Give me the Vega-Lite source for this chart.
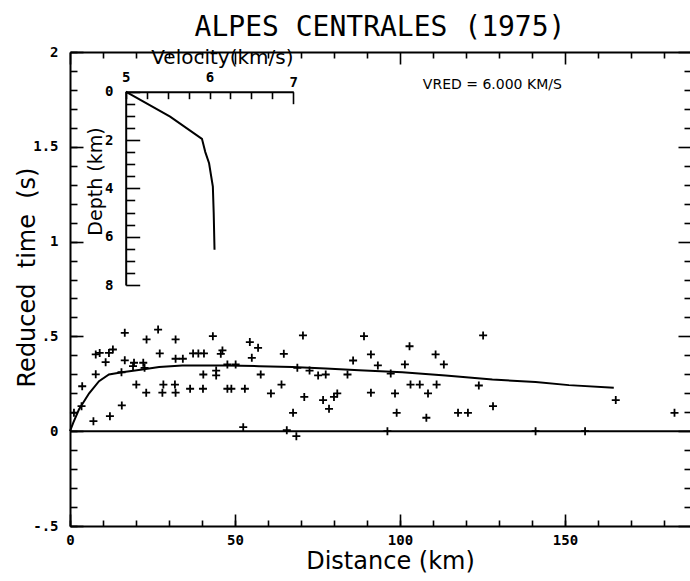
{
  "$schema": "https://vega.github.io/schema/vega-lite/v6.json",
  "width": 620,
  "height": 474,
  "autosize": {"type": "none"},
  "padding": {"left": 70, "top": 52, "right": 0, "bottom": 55},
  "background": "white",
  "title": {"text": "ALPES CENTRALES (1975)", "font": "DejaVu Sans Mono", "fontSize": 28, "fontWeight": "normal", "color": "black", "offset": 3, "anchor": "middle"},
  "config": {
    "view": {"stroke": null},
    "axis": {"grid": false, "domainColor": "black", "domainWidth": 2, "tickColor": "black", "tickWidth": 1.6, "labelColor": "black", "labelFont": "DejaVu Sans Mono", "labelFontWeight": "bold", "labelFontSize": 14, "titleColor": "black", "titleFont": "DejaVu Sans", "titleFontWeight": "normal", "titleFontSize": 24, "labelOverlap": false, "labelFlush": false}
  },
  "datasets": {
    "points": [
      {"dist": 1.2, "t": 0.097}, {"dist": 3.5, "t": 0.132}, {"dist": 3.7, "t": 0.237}, {"dist": 7.8, "t": 0.405}, {"dist": 9.0, "t": 0.413},
      {"dist": 7.8, "t": 0.30}, {"dist": 7.1, "t": 0.053}, {"dist": 10.8, "t": 0.364}, {"dist": 11.8, "t": 0.413}, {"dist": 13.0, "t": 0.431},
      {"dist": 12.1, "t": 0.079}, {"dist": 15.7, "t": 0.136}, {"dist": 15.6, "t": 0.311}, {"dist": 16.6, "t": 0.519}, {"dist": 16.6, "t": 0.374},
      {"dist": 19.4, "t": 0.361}, {"dist": 19.1, "t": 0.343}, {"dist": 20.1, "t": 0.246}, {"dist": 22.2, "t": 0.361}, {"dist": 22.6, "t": 0.334},
      {"dist": 23.2, "t": 0.484}, {"dist": 23.1, "t": 0.203}, {"dist": 26.7, "t": 0.536}, {"dist": 27.2, "t": 0.41}, {"dist": 28.3, "t": 0.246},
      {"dist": 28.0, "t": 0.203}, {"dist": 31.8, "t": 0.246}, {"dist": 32.0, "t": 0.203}, {"dist": 32.0, "t": 0.484}, {"dist": 32.0, "t": 0.382},
      {"dist": 34.2, "t": 0.382}, {"dist": 36.4, "t": 0.224}, {"dist": 37.3, "t": 0.41}, {"dist": 38.9, "t": 0.41}, {"dist": 40.6, "t": 0.41},
      {"dist": 40.4, "t": 0.299}, {"dist": 40.3, "t": 0.224}, {"dist": 43.3, "t": 0.501}, {"dist": 44.3, "t": 0.32}, {"dist": 44.3, "t": 0.294},
      {"dist": 45.7, "t": 0.408}, {"dist": 46.2, "t": 0.426}, {"dist": 47.7, "t": 0.352}, {"dist": 47.7, "t": 0.224}, {"dist": 48.9, "t": 0.224},
      {"dist": 50.2, "t": 0.352}, {"dist": 52.5, "t": 0.021}, {"dist": 53.0, "t": 0.224}, {"dist": 54.5, "t": 0.47}, {"dist": 55.1, "t": 0.387},
      {"dist": 57.0, "t": 0.44}, {"dist": 57.8, "t": 0.299}, {"dist": 60.9, "t": 0.199}, {"dist": 64.1, "t": 0.246}, {"dist": 64.8, "t": 0.408},
      {"dist": 65.7, "t": 0.005}, {"dist": 67.6, "t": 0.097}, {"dist": 68.6, "t": -0.026}, {"dist": 68.9, "t": 0.334}, {"dist": 70.6, "t": 0.505},
      {"dist": 71.0, "t": 0.181}, {"dist": 72.6, "t": 0.32}, {"dist": 75.2, "t": 0.294}, {"dist": 77.5, "t": 0.299}, {"dist": 76.7, "t": 0.164},
      {"dist": 78.5, "t": 0.118}, {"dist": 80.0, "t": 0.181}, {"dist": 81.0, "t": 0.199}, {"dist": 84.1, "t": 0.299}, {"dist": 85.8, "t": 0.373},
      {"dist": 89.1, "t": 0.501}, {"dist": 91.2, "t": 0.405}, {"dist": 91.2, "t": 0.203}, {"dist": 93.3, "t": 0.347}, {"dist": 97.2, "t": 0.304},
      {"dist": 98.5, "t": 0.199}, {"dist": 99.0, "t": 0.097}, {"dist": 96.2, "t": 0.0}, {"dist": 101.5, "t": 0.352}, {"dist": 102.9, "t": 0.448},
      {"dist": 103.2, "t": 0.246}, {"dist": 106.0, "t": 0.246}, {"dist": 108.5, "t": 0.199}, {"dist": 108.0, "t": 0.071}, {"dist": 110.8, "t": 0.405},
      {"dist": 113.3, "t": 0.352}, {"dist": 111.1, "t": 0.246}, {"dist": 117.6, "t": 0.097}, {"dist": 120.6, "t": 0.097}, {"dist": 123.9, "t": 0.241},
      {"dist": 125.2, "t": 0.505}, {"dist": 128.2, "t": 0.132}, {"dist": 141.1, "t": 0.0}, {"dist": 156.1, "t": 0.0}, {"dist": 165.4, "t": 0.164},
      {"dist": 183.2, "t": 0.097}
    ],
    "curve": [
      {"dist": 0, "t": 0}, {"dist": 1, "t": 0.045}, {"dist": 2.7, "t": 0.114}, {"dist": 5.8, "t": 0.2}, {"dist": 8.8, "t": 0.264},
      {"dist": 11.8, "t": 0.299}, {"dist": 15.8, "t": 0.311}, {"dist": 21.9, "t": 0.325}, {"dist": 27, "t": 0.338}, {"dist": 34, "t": 0.347},
      {"dist": 47.2, "t": 0.347}, {"dist": 57.3, "t": 0.343}, {"dist": 67.4, "t": 0.338}, {"dist": 77.5, "t": 0.331}, {"dist": 87.6, "t": 0.322},
      {"dist": 100.7, "t": 0.311}, {"dist": 113.8, "t": 0.294}, {"dist": 128, "t": 0.273}, {"dist": 141.1, "t": 0.259}, {"dist": 151.2, "t": 0.243},
      {"dist": 164.8, "t": 0.229}
    ],
    "velocity": [
      {"v": 5.0, "depth": 0}, {"v": 5.53, "depth": 1.03}, {"v": 5.91, "depth": 1.95}, {"v": 5.95, "depth": 2.5}, {"v": 5.995, "depth": 2.96},
      {"v": 6.02, "depth": 3.5}, {"v": 6.04, "depth": 3.93}, {"v": 6.05, "depth": 5.0}, {"v": 6.06, "depth": 6.54}
    ],
    "one": [{}]
  },
  "resolve": {"scale": {"x": "independent", "y": "independent"}},
  "layer": [
    {
      "data": {"name": "points"},
      "mark": {"type": "point", "shape": "M-1,0H1M0,-1V1", "filled": false, "stroke": "black", "strokeWidth": 1.8, "size": 64, "opacity": 1},
      "encoding": {
        "x": {"field": "dist", "type": "quantitative", "scale": {"domain": [0, 187.9], "nice": false, "zero": false},
          "axis": {"orient": "bottom", "values": [0, 50, 100, 150], "ticks": false, "domain": true, "labelPadding": 7, "labelExpr": "format(datum.value, 'd')", "title": "Distance (km)", "titlePadding": 2, "titleX": 320}},
        "y": {"field": "t", "type": "quantitative", "scale": {"domain": [-0.5, 2], "nice": false, "zero": false},
          "axis": {"orient": "left", "values": [-0.5, 0, 0.5, 1, 1.5, 2], "ticks": false, "domain": true, "labelPadding": 12,
            "labelExpr": "datum.value == -0.5 ? '-.5' : datum.value == 0.5 ? '.5' : datum.value == 1.5 ? '1.5' : format(datum.value, 'd')",
            "title": "Reduced\u00a0 time\u00a0 (s)", "titleX": -43, "titleY": 225, "titleBaseline": "middle", "titleAngle": 270}}
      }
    },
    {
      "data": {"name": "curve"},
      "mark": {"type": "line", "color": "black", "strokeWidth": 2},
      "encoding": {
        "x": {"field": "dist", "type": "quantitative", "scale": {"domain": [0, 187.9], "nice": false, "zero": false},
          "axis": {"orient": "bottom", "values": [0, 50, 100, 150], "tickSize": -12, "labels": false, "domain": false, "title": null}},
        "y": {"field": "t", "type": "quantitative", "scale": {"domain": [-0.5, 2], "nice": false, "zero": false},
          "axis": {"orient": "left", "values": [-0.5, 0, 0.5, 1, 1.5, 2], "tickSize": -13, "labels": false, "domain": false, "title": null}}
      }
    },
    {
      "data": {"name": "one"},
      "mark": {"type": "rule", "color": "black", "strokeWidth": 2},
      "encoding": {
        "x": {"datum": 0, "type": "quantitative", "scale": {"domain": [0, 187.9], "nice": false, "zero": false},
          "axis": {"orient": "bottom", "values": [0, 10, 20, 30, 40, 50, 60, 70, 80, 90, 100, 110, 120, 130, 140, 150, 160, 170, 180], "tickSize": -6, "labels": false, "domain": false, "title": null}},
        "x2": {"datum": 187.9},
        "y": {"datum": 0, "type": "quantitative", "scale": {"domain": [-0.5, 2], "nice": false, "zero": false},
          "axis": {"orient": "left", "values": [-0.5, -0.4, -0.3, -0.2, -0.1, 0, 0.1, 0.2, 0.3, 0.4, 0.5, 0.6, 0.7, 0.8, 0.9, 1, 1.1, 1.2, 1.3, 1.4, 1.5, 1.6, 1.7, 1.8, 1.9, 2], "tickSize": -7, "labels": false, "domain": false, "title": null}}
      }
    },
    {
      "data": {"name": "one"},
      "mark": {"type": "text", "text": "VRED = 6.000 KM/S", "font": "DejaVu Sans", "fontSize": 14, "color": "black", "align": "center", "baseline": "middle"},
      "encoding": {
        "x": {"datum": 128, "type": "quantitative", "scale": {"domain": [0, 187.9], "nice": false, "zero": false},
          "axis": {"orient": "top", "values": [0, 10, 20, 30, 40, 50, 60, 70, 80, 90, 100, 110, 120, 130, 140, 150, 160, 170, 180],
            "tickSize": {"condition": {"test": "datum.value % 50 != 0", "value": -6}, "value": -12}, "labels": false, "domain": true, "title": null}},
        "y": {"datum": 1.826, "type": "quantitative", "scale": {"domain": [-0.5, 2], "nice": false, "zero": false},
          "axis": {"orient": "right", "values": [-0.5, -0.4, -0.3, -0.2, -0.1, 0, 0.1, 0.2, 0.3, 0.4, 0.5, 0.6, 0.7, 0.8, 0.9, 1, 1.1, 1.2, 1.3, 1.4, 1.5, 1.6, 1.7, 1.8, 1.9, 2],
            "tickSize": {"condition": {"test": "abs(round(datum.value * 10)) % 5 != 0", "value": -6}, "value": -12}, "labels": false, "domain": false, "title": null}}
      }
    },
    {
      "data": {"name": "velocity"},
      "mark": {"type": "line", "color": "black", "strokeWidth": 2},
      "encoding": {
        "x": {"field": "v", "type": "quantitative", "scale": {"domain": [5, 7], "range": [55.7, 223.3], "nice": false, "zero": false},
          "axis": {"orient": "top", "offset": -39.7, "values": [5, 5.25, 5.5, 5.75, 6, 6.25, 6.5, 6.75, 7],
            "tickSize": {"condition": {"test": "datum.value != 7", "value": -7}, "value": -12},
            "labelExpr": "datum.value % 1 == 0 ? format(datum.value, 'd') : ''", "labelPadding": 14,
            "title": "Velocity(km/s)", "titleFontSize": 20, "titleAlign": "right", "titleX": 223, "titleY": -28, "titleBaseline": "alphabetic"}},
        "y": {"field": "depth", "type": "quantitative", "scale": {"domain": [0, 8], "range": [39.7, 233], "nice": false, "zero": false},
          "axis": {"orient": "left", "offset": -55.7, "values": [0, 0.5, 1, 1.5, 2, 2.5, 3, 3.5, 4, 4.5, 5, 5.5, 6, 6.5, 7, 7.5, 8],
            "tickSize": {"condition": {"test": "datum.value % 2 != 0", "value": -9}, "value": -14},
            "labelExpr": "datum.value % 2 == 0 ? format(datum.value, 'd') : ''", "labelPadding": 26.7,
            "title": "Depth (km)", "titleFontSize": 19, "titleX": -30.7, "titleY": 129, "titleBaseline": "middle", "titleAngle": 270}}
      }
    }
  ]
}
